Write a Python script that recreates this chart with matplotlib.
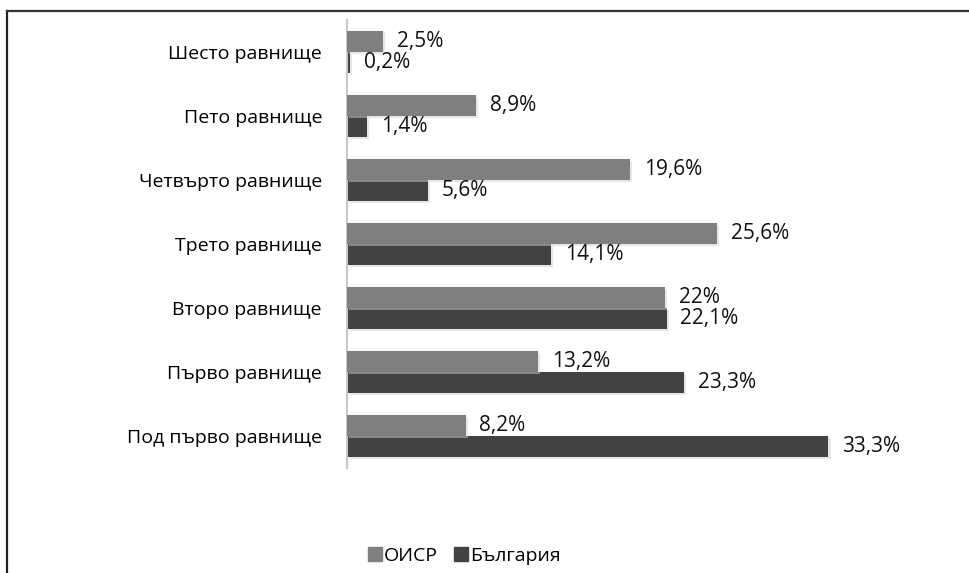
import numpy as np
import matplotlib
matplotlib.use("Agg")
import matplotlib.pyplot as plt
import matplotlib.patheffects as pe
from matplotlib.lines import Line2D

plt.rcParams['font.family'] = ['Open Sans', 'DejaVu Sans']

levels = ['Под първо равнище', 'Първо равнище', 'Второ равнище', 'Трето равнище',
          'Четвърто равнище', 'Пето равнище', 'Шесто равнище']
oecd = [8.2, 13.2, 22.0, 25.6, 19.6, 8.9, 2.5]
bulgaria = [33.3, 23.3, 22.1, 14.1, 5.6, 1.4, 0.2]
series_names = ['ОИСР', 'България']
colors = ['#7f7f7f', '#424242']


def fmt(v):
    s = f'{v:.1f}'.replace('.', ',')
    return s[:-2] + '%' if s.endswith(',0') else s + '%'


W, H = 969, 573
fig = plt.figure(figsize=(W / 100, H / 100), dpi=100)
ax = fig.add_axes([347 / W, 1 - 468 / H, 506 / W, 448 / H])

y = np.arange(len(levels))
h = 0.33
shadow = [pe.SimplePatchShadow(offset=(1.5, -1.5), shadow_rgbFace='#cfcfcf', alpha=0.5), pe.Normal()]
b1 = ax.barh(y + h / 2, oecd, height=h, color=colors[0], path_effects=shadow, zorder=3)
b2 = ax.barh(y - h / 2, bulgaria, height=h, color=colors[1], path_effects=shadow, zorder=2)

for bars, vals in ((b1, oecd), (b2, bulgaria)):
    for bar, v in zip(bars, vals):
        ax.annotate(fmt(v), (v, bar.get_y() + bar.get_height() / 2),
                    xytext=(10, 0), textcoords='offset points',
                    ha='left', va='center', fontsize=15, color='#111111')

ax.set_xlim(0, 35)
ax.set_ylim(-0.5, len(levels) - 0.5)
ax.set_yticks(y)
ax.set_yticklabels(levels, fontsize=14)
ax.tick_params(axis='y', length=0, pad=18)
ax.set_xticks([])
for side in ('top', 'right', 'bottom'):
    ax.spines[side].set_visible(False)
ax.spines['left'].set_color('#c8c8c8')
ax.spines['left'].set_linewidth(1.5)

handles = [Line2D([], [], marker='s', linestyle='none', markersize=10,
                  color=c) for c in colors]
fig.legend(handles, series_names, loc='center', bbox_to_anchor=(464 / W, 1 - 556 / H),
           ncol=2, frameon=False, fontsize=14, handletextpad=0.05, columnspacing=0.8,
           handlelength=0.8)

# outer frame (left and top edges only)
fig.add_artist(Line2D([7 / W, 7 / W], [0, 1 - 11 / H], color='#222222', lw=1.6,
                      transform=fig.transFigure))
fig.add_artist(Line2D([7 / W, 1], [1 - 11 / H, 1 - 11 / H], color='#333333', lw=1.6,
                      transform=fig.transFigure))

fig.savefig('out.png', dpi=100)
